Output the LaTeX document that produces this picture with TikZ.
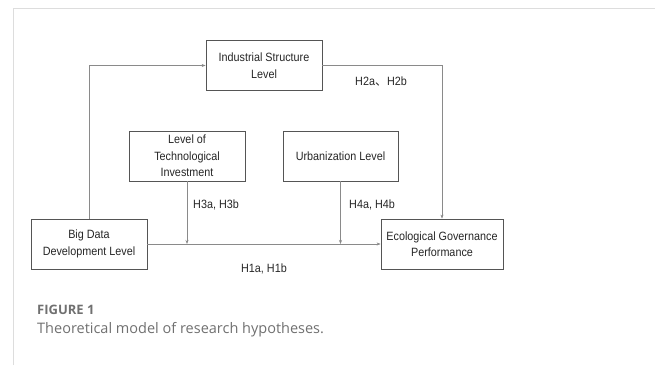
\documentclass[tikz,border=0pt]{standalone}
\usepackage{fontspec}
\setmainfont{Liberation Sans}
\newfontfamily\boxfont[FakeStretch=0.9]{Liberation Sans}
\newfontfamily\capfont{Open Sans}
\newfontfamily\cjk{Noto Sans CJK SC}
\usetikzlibrary{arrows.meta}
\definecolor{boxc}{HTML}{555555}
\definecolor{linec}{HTML}{8A8A8A}
\definecolor{framec}{HTML}{DDDDDD}
\definecolor{capc}{HTML}{707070}
\tikzset{
  var/.style={draw=boxc, line width=0.8pt, fill=white, minimum height=50pt, align=center, font=\boxfont\fontsize{12}{16.5}\selectfont, inner sep=2pt, text=black!85},
  conn/.style={draw=linec, line width=0.6pt},
  arr/.style={conn, -{Stealth[length=4pt,width=3pt]}},
  lab/.style={font=\boxfont\fontsize{12}{13}\selectfont, inner sep=0pt, text=black!85}
}
\begin{document}
\begin{tikzpicture}[x=1pt,y=-1pt]
\useasboundingbox (0,0) rectangle (655,365);
\draw[framec, line width=1pt] (13,365) -- (13,8) -- (655,8);
\node[var, minimum width=116pt] (ind) at (264,65.5) {Industrial Structure\\Level};
\node[var, minimum width=116pt] (tech) at (187,156) {Level of\\Technological\\Investment};
\node[var, minimum width=115pt] (urb) at (340.5,156) {Urbanization Level};
\node[var, minimum width=116pt] (big) at (89,244) {Big Data\\Development Level};
\node[var, minimum width=122pt] (eco) at (442,244) {Ecological Governance\\Performance};
\coordinate (ltop) at (big.north |- ind.west);
\coordinate (rtop) at (eco.north |- ind.east);
\coordinate (jt) at (tech.south |- big.east);
\coordinate (ju) at (urb.south |- big.east);
\draw[arr] (big.north) -- (ltop) -- (ind.west);
\draw[arr] (ind.east) -- (rtop) -- (eco.north);
\draw[arr] (big.east) -- (eco.west);
\draw[arr] (tech.south) -- (jt);
\draw[arr] (urb.south) -- (ju);
\node[lab, anchor=west] (h2) at (355,81) {H2a{\cjk 、}H2b};
\node[lab, anchor=west] (h3) at (193,205) {H3a, H3b};
\node[lab, anchor=west] (h4) at (349,205) {H4a, H4b};
\node[lab] (h1) at (264,269) {H1a, H1b};
\node[anchor=west, inner sep=0pt, text=capc, font=\capfont\fontsize{13}{15}\selectfont\bfseries] (fig) at (37,310) {FIGURE 1};
\node[anchor=west, inner sep=0pt, text=capc, font=\capfont\fontsize{14.5}{17}\selectfont] (cap) at (37,330) {Theoretical model of research hypotheses.};
\end{tikzpicture}
\end{document}
